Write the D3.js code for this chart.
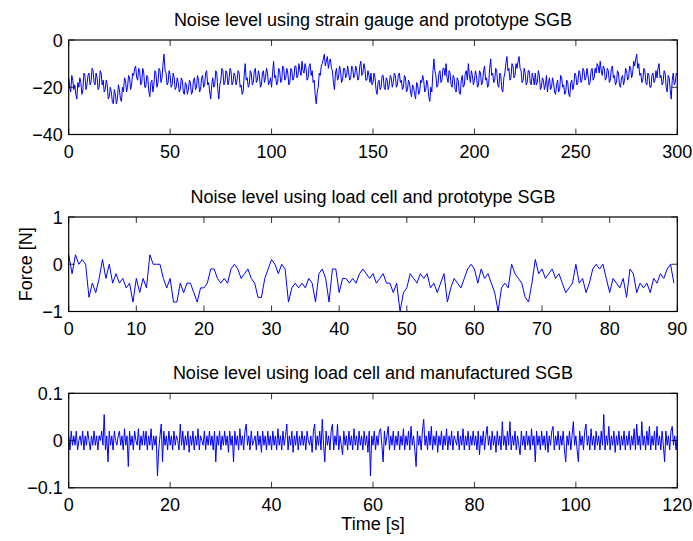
<!DOCTYPE html>
<html><head><meta charset="utf-8">
<script src="https://cdn.jsdelivr.net/npm/d3@7"></script>
<style>
body{margin:0;background:#fff;}
text{font-family:"Liberation Sans",Arial,Helvetica,sans-serif;}
</style></head>
<body><svg id="c" width="693" height="541"></svg>
<script>
// ---- data ----
const titles = [
  "Noise level using strain gauge and prototype SGB",
  "Noise level using load cell and prototype SGB",
  "Noise level using load cell and manufactured SGB"
];
const xDomains = [[0,300],[0,90],[0,120]];
const yDomains = [[-40,0],[-1,1],[-0.1,0.1]];
const xTicks = [[0,50,100,150,200,250,300],[0,10,20,30,40,50,60,70,80,90],[0,20,40,60,80,100,120]];
const yTicks = [[-40,-20,0],[-1,0,1],[-0.1,0,0.1]];
const timeSteps = [0.5, 0.5, 0.25];
const yLabel = "Force [N]";
const xLabel = "Time [s]";

// strain gauge + prototype SGB, every 0.5 s (0..300 s)
const strainProto = [
 -16,-20,-22,-15,-17,-21,-19,-23,-25,-18,-20,-16,-18,-23,-21,-14,-15,-21,-19,-15,
 -14,-19,-18,-12,-13,-18,-19,-14,-16,-21,-20,-13,-14,-19,-17,-22,-21,-17,-19,-25,
 -24,-20,-22,-26,-27,-21,-23,-27,-25,-19,-21,-25,-26,-20,-22,-16,-17,-22,-20,-15,
 -16,-21,-19,-14,-15,-12,-11,-16,-17,-12,-13,-19,-18,-12,-14,-20,-20,-15,-16,-22,
 -24,-18,-17,-22,-19,-13,-14,-20,-18,-12,-13,-18,-16,-10,-6,-13,-14,-19,-18,-13,
 -15,-20,-19,-14,-16,-21,-20,-16,-18,-22,-21,-16,-17,-22,-23,-18,-19,-23,-21,-17,
 -18,-23,-22,-17,-16,-21,-20,-15,-17,-22,-21,-16,-15,-20,-19,-14,-13,-19,-18,-22,
 -25,-19,-16,-20,-19,-13,-14,-21,-25,-19,-17,-12,-13,-19,-18,-13,-14,-19,-17,-12,
 -13,-19,-18,-14,-15,-19,-17,-13,-14,-20,-19,-23,-22,-15,-10,-17,-16,-20,-19,-13,
 -14,-19,-18,-13,-12,-18,-17,-13,-15,-20,-19,-14,-13,-18,-16,-12,-14,-19,-18,-16,
 -20,-14,-9,-16,-15,-19,-18,-12,-13,-18,-17,-11,-12,-17,-16,-12,-14,-19,-18,-12,
 -13,-17,-16,-11,-11,-16,-15,-10,-13,-15,-9,-13,-14,-10,-12,-17,-16,-11,-10,-15,
 -13,-18,-17,-23,-27,-22,-20,-14,-15,-11,-10,-8,-6,-11,-9,-7,-12,-9,-8,-12,
 -13,-18,-21,-14,-12,-17,-16,-11,-13,-18,-17,-12,-12,-16,-15,-11,-14,-17,-16,-11,
 -12,-16,-15,-11,-13,-17,-16,-11,-9,-15,-14,-10,-12,-17,-17,-13,-15,-18,-14,-19,
 -18,-14,-16,-21,-23,-18,-17,-21,-20,-15,-15,-20,-21,-16,-17,-21,-19,-15,-16,-20,
 -18,-14,-15,-20,-19,-15,-14,-18,-17,-21,-20,-15,-16,-22,-21,-17,-18,-22,-24,-19,
 -20,-23,-25,-18,-19,-23,-22,-17,-18,-15,-17,-22,-21,-17,-19,-24,-26,-20,-22,-14,
 -8,-13,-15,-20,-19,-14,-13,-18,-17,-12,-12,-15,-10,-16,-18,-13,-14,-19,-20,-15,
 -16,-21,-22,-16,-17,-22,-23,-17,-15,-20,-19,-14,-13,-17,-10,-15,-18,-13,-15,-19,
 -17,-13,-15,-20,-19,-13,-14,-19,-18,-13,-11,-17,-16,-20,-19,-12,-8,-15,-14,-18,
 -17,-12,-13,-19,-20,-14,-15,-21,-22,-16,-14,-10,-7,-13,-12,-17,-16,-10,-11,-16,
 -15,-10,-12,-9,-7,-12,-13,-18,-17,-12,-14,-19,-18,-13,-13,-18,-19,-14,-16,-19,
 -14,-19,-18,-13,-15,-21,-20,-16,-17,-21,-19,-15,-22,-18,-16,-21,-20,-16,-18,-22,
 -23,-19,-17,-22,-21,-15,-16,-20,-19,-23,-22,-17,-18,-23,-24,-18,-17,-21,-19,-14,
 -15,-19,-18,-13,-14,-18,-17,-12,-13,-17,-16,-12,-15,-19,-18,-13,-12,-17,-16,-12,
 -14,-10,-11,-14,-9,-13,-15,-11,-12,-17,-16,-12,-13,-18,-17,-12,-11,-16,-15,-19,
 -18,-13,-14,-19,-20,-16,-15,-19,-17,-12,-13,-17,-16,-11,-12,-16,-14,-9,-11,-8,
 -6,-12,-10,-15,-14,-18,-17,-12,-13,-18,-19,-14,-15,-20,-20,-15,-14,-18,-17,-13,
 -16,-12,-10,-16,-15,-19,-18,-13,-14,-20,-22,-15,-16,-21,-25,-17,-14,-19,-18,-14,
 -15
];

// load cell + prototype SGB, every 0.5 s (0..89.5 s)
const loadProto = [
 0.2,-0.2,0.2,0.0,0.1,0.0,-0.7,-0.4,-0.6,-0.3,
 0.1,-0.3,0.0,-0.4,-0.2,-0.4,-0.3,-0.5,-0.4,-0.8,
 -0.3,-0.6,-0.3,-0.5,0.2,0.0,0.0,0.0,-0.3,-0.5,
 -0.3,-0.8,-0.8,-0.4,-0.6,-0.4,-0.4,-0.6,-0.8,-0.5,
 -0.5,-0.4,-0.1,-0.1,-0.3,-0.4,-0.3,-0.4,-0.1,0.0,
 -0.1,-0.3,-0.2,-0.1,-0.3,-0.4,-0.7,-0.7,-0.3,-0.1,
 0.1,0.0,-0.2,0.0,-0.1,-0.8,-0.5,-0.4,-0.5,-0.4,
 -0.5,-0.3,-0.4,-0.8,-0.2,-0.1,-0.3,-0.8,-0.1,-0.1,
 -0.6,-0.3,-0.3,-0.4,-0.3,-0.4,-0.2,-0.1,-0.2,-0.3,
 -0.2,-0.4,-0.3,-0.2,-0.4,-0.4,-0.6,-0.4,-1.0,-0.6,
 -0.5,-0.2,-0.3,-0.4,-0.2,-0.3,-0.2,-0.5,-0.4,-0.6,
 -0.4,-0.2,-0.8,-0.5,-0.3,-0.4,-0.5,-0.3,-0.1,0.0,
 -0.1,-0.4,-0.1,-0.3,-0.2,-0.4,-0.6,-1.0,-0.5,-0.4,
 -0.5,0.0,-0.2,-0.3,-0.4,-0.7,-0.8,-0.4,0.1,-0.2,
 -0.1,-0.3,-0.2,-0.1,-0.3,-0.2,-0.4,-0.6,-0.5,-0.4,
 0.0,-0.4,-0.3,-0.6,-0.4,-0.1,0.0,-0.1,0.0,-0.3,
 -0.6,-0.3,-0.4,-0.5,-0.3,-0.7,-0.1,-0.2,-0.6,-0.4,
 -0.5,-0.4,-0.6,-0.3,-0.4,-0.2,-0.3,-0.1,0.0,-0.4
];

// load cell + manufactured SGB, every 0.25 s (0..120 s)
const loadManuf = [
 0.01,-0.02,0.02,-0.01,0.01,-0.01,0.02,-0.02,0,0.01,-0.01,0.02,-0.02,0.01,-0.01,0.02,0,-0.02,0.01,-0.01,
 0.02,-0.01,0.01,-0.02,0.01,0,0.02,-0.01,0.055,-0.02,0.01,-0.045,0.02,-0.01,0.01,-0.02,0.02,0,-0.01,0.01,
 0.02,-0.01,0.01,-0.02,0.025,-0.01,0.01,-0.055,0.02,-0.01,0.01,-0.02,0.02,0,-0.01,0.025,-0.02,0.01,-0.01,0.02,
 -0.01,0.02,-0.02,0.01,-0.01,0.025,-0.02,0.01,-0.01,0.01,-0.075,-0.02,0.01,0.035,-0.045,0.02,-0.01,0.01,-0.02,0.02,
 -0.01,0.01,-0.02,0.02,-0.01,0.01,0,-0.02,0.035,-0.01,0.02,-0.02,0.01,-0.01,0.02,-0.025,0.01,-0.01,0.02,-0.02,
 0.01,-0.01,0.025,-0.02,0.01,0,-0.01,0.02,-0.02,0.01,-0.01,0.02,-0.01,0.01,-0.02,0.02,-0.045,0.01,-0.01,0.02,
 -0.02,0.01,-0.01,0.02,-0.01,0.01,-0.025,0.02,-0.01,0.01,-0.045,0.02,-0.01,0.01,-0.02,0.025,-0.01,0.01,-0.02,0.02,
 0.035,-0.01,0.01,-0.02,0.02,-0.01,0,0.01,-0.02,0.02,-0.01,0.01,-0.025,0.02,-0.01,0.01,-0.02,0.02,-0.01,0.01,
 -0.02,0.02,-0.01,0.01,-0.02,0.025,-0.01,0.01,-0.02,0.02,-0.01,0.01,0.035,-0.02,0.01,-0.01,0.02,-0.025,0.01,-0.01,
 0.02,-0.02,0.01,-0.01,0.02,-0.01,0.01,-0.02,0.02,0,-0.01,0.01,-0.025,0.02,0.035,-0.02,0.01,-0.01,0.02,-0.02,
 0.045,-0.01,-0.045,0.02,-0.01,0.01,-0.02,0.02,0.035,-0.02,0.01,-0.01,0.035,-0.02,0.01,-0.01,-0.03,0.02,-0.01,0.01,
 -0.02,0.02,-0.01,0.01,-0.02,0.025,-0.01,0.01,-0.02,0.02,-0.01,0.01,-0.02,0.02,-0.01,0.01,-0.025,0.02,-0.075,0.01,
 -0.01,0.02,-0.02,0.01,-0.01,0.02,0.025,-0.01,-0.045,0.02,-0.01,0.01,0.03,-0.02,0.01,-0.01,0.02,-0.02,0.01,-0.01,
 0.02,-0.02,0.01,-0.01,0.025,-0.02,0.01,-0.01,0.02,-0.02,0.03,-0.01,0.01,-0.02,-0.055,0.02,-0.01,0.01,-0.02,0.02,
 0.045,-0.01,0.01,-0.02,0.02,-0.01,0.03,-0.02,0.01,-0.01,0.02,-0.025,0.01,-0.01,0.02,-0.02,0.01,-0.01,0.025,-0.02,
 0.01,-0.01,0.02,-0.02,0.01,0,-0.01,0.02,-0.02,0.01,-0.01,0.025,-0.02,0.01,-0.01,0.02,-0.02,0.01,-0.01,0.02,
 -0.01,0.01,-0.02,0.02,-0.03,0.01,-0.01,0.02,-0.02,0.01,0.03,-0.01,0.01,-0.02,0.02,-0.01,0.01,-0.025,0.02,-0.01,
 0.01,-0.02,0.04,-0.01,0.01,-0.02,0.02,-0.01,0.04,-0.02,0.01,-0.01,0.02,-0.02,0.01,-0.01,-0.03,0.02,-0.01,0.01,
 -0.02,0.02,-0.01,0.01,-0.02,0.025,-0.01,0.01,-0.045,0.02,-0.01,0.01,-0.02,0.02,-0.01,0.01,-0.02,0.02,-0.025,0.01,
 -0.01,0.02,0.03,-0.02,0.01,-0.01,0.02,-0.02,0.01,-0.01,0.02,-0.02,-0.045,0.01,-0.01,0.02,-0.02,0.01,0.04,-0.01,
 0.01,-0.02,-0.045,0.02,-0.01,0.01,-0.02,0.02,0.035,-0.01,0.01,-0.02,0.025,-0.01,0.01,-0.02,0.02,-0.01,0.01,-0.02,
 0.02,-0.01,0.055,-0.02,0.01,-0.01,0.03,-0.02,0.01,-0.01,0.02,-0.025,0.01,-0.01,0.02,-0.02,0.01,-0.01,0.02,-0.02,
 0.01,-0.01,0.02,-0.02,0.01,-0.01,0.025,-0.02,0.035,-0.01,0.01,-0.02,0.04,-0.01,0.01,-0.02,0.02,-0.01,0.03,-0.02,
 0.01,-0.01,0.02,-0.02,0.03,-0.01,0.01,-0.02,0.02,-0.01,-0.045,0.02,-0.01,0.01,-0.02,0.02,0.03,-0.01,0.01,-0.02,
 0.01
];
const series = [strainProto, loadProto, loadManuf];

// ---- layout ----
const svg = d3.select("#c");
const left = 68.7, right = 677.3;
const tops = [40, 217, 393.3];
const ph = 94.5;
const fs = 18;
const tick = 6;

series.forEach((vals, k) => {
  const top = tops[k], bottom = top + ph;
  const x = d3.scaleLinear().domain(xDomains[k]).range([left, right]);
  const y = d3.scaleLinear().domain(yDomains[k]).range([bottom, top]);
  const g = svg.append("g");

  const line = d3.line().x((d, i) => x(i * timeSteps[k])).y(d => y(d));
  g.append("path").datum(vals).attr("d", line)
    .attr("fill", "none").attr("stroke", "#0000ff").attr("stroke-width", 1)
    .attr("stroke-linejoin", "round");

  const xt = xTicks[k], yt = yTicks[k];
  g.selectAll(".xtb").data(xt).enter().append("line")
    .attr("x1", d => x(d)).attr("x2", d => x(d)).attr("y1", bottom).attr("y2", bottom - tick)
    .attr("stroke", "#000").attr("stroke-width", 0.8);
  g.selectAll(".xtt").data(xt).enter().append("line")
    .attr("x1", d => x(d)).attr("x2", d => x(d)).attr("y1", top).attr("y2", top + tick)
    .attr("stroke", "#000").attr("stroke-width", 0.8);
  g.selectAll(".ytl").data(yt).enter().append("line")
    .attr("x1", left).attr("x2", left + tick).attr("y1", d => y(d)).attr("y2", d => y(d))
    .attr("stroke", "#000").attr("stroke-width", 0.8);
  g.selectAll(".ytr").data(yt).enter().append("line")
    .attr("x1", right).attr("x2", right - tick).attr("y1", d => y(d)).attr("y2", d => y(d))
    .attr("stroke", "#000").attr("stroke-width", 0.8);

  g.append("rect").attr("x", left).attr("y", top).attr("width", right - left).attr("height", ph)
    .attr("fill", "none").attr("stroke", "#000").attr("stroke-width", 1.2);

  const fmt = d3.format("");
  g.selectAll(".xl").data(xt).enter().append("text")
    .attr("x", d => x(d)).attr("y", bottom + 23.5)
    .attr("text-anchor", "middle").attr("font-size", fs).attr("fill", "#000")
    .text(d => fmt(d));
  g.selectAll(".yl").data(yt).enter().append("text")
    .attr("x", left - 6).attr("y", d => y(d) + 6.5)
    .attr("text-anchor", "end").attr("font-size", fs).attr("fill", "#000")
    .text(d => fmt(d));

  g.append("text").attr("x", (left + right) / 2).attr("y", top - 14.3)
    .attr("text-anchor", "middle").attr("font-size", fs).attr("fill", "#000")
    .text(titles[k]);
});

svg.append("text").attr("x", (left + right) / 2).attr("y", 529.5)
  .attr("text-anchor", "middle").attr("font-size", fs).attr("fill", "#000").text(xLabel);
svg.append("text").attr("transform", `translate(32,${tops[1] + ph / 2}) rotate(-90)`)
  .attr("text-anchor", "middle").attr("font-size", fs).attr("fill", "#000").text(yLabel);
</script></body></html>
